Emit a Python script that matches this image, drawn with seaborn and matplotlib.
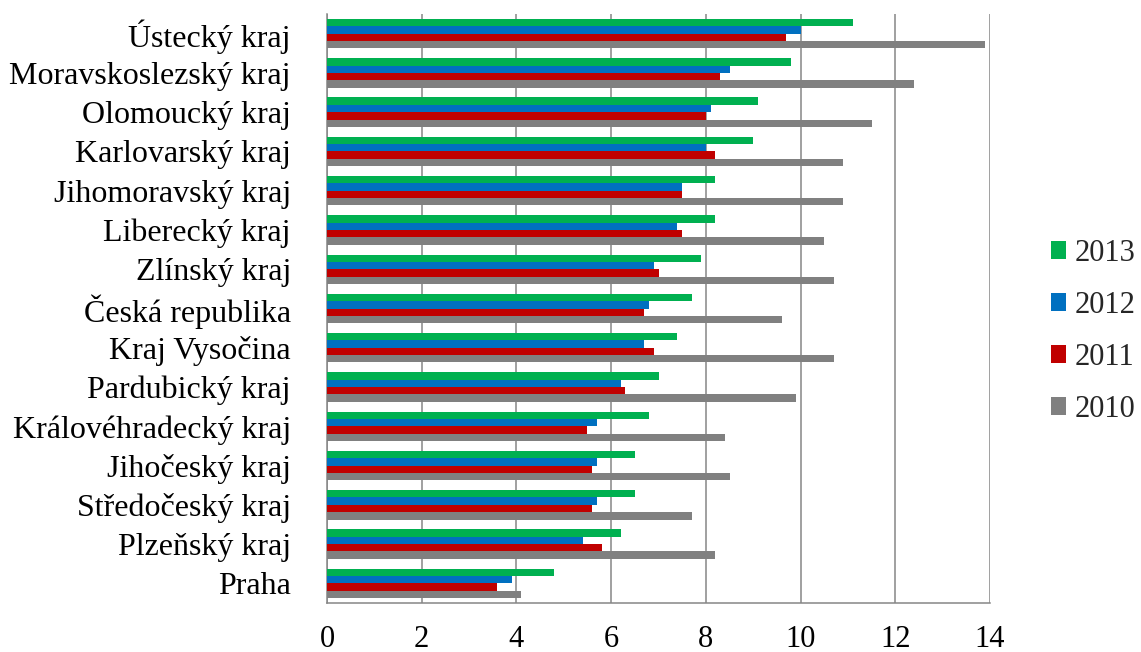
import matplotlib
matplotlib.use("Agg")
import matplotlib.pyplot as plt
import seaborn as sns
import pandas as pd
import numpy as np

regions = [
    "Ústecký kraj", "Moravskoslezský kraj", "Olomoucký kraj", "Karlovarský kraj",
    "Jihomoravský kraj", "Liberecký kraj", "Zlínský kraj", "Česká republika",
    "Kraj Vysočina", "Pardubický kraj", "Královéhradecký kraj", "Jihočeský kraj",
    "Středočeský kraj", "Plzeňský kraj", "Praha",
]
years = ["2013", "2012", "2011", "2010"]
v2013 = [11.1, 9.8, 9.1, 9.0, 8.2, 8.2, 7.9, 7.7, 7.4, 7.0, 6.8, 6.5, 6.5, 6.2, 4.8]
v2012 = [10.0, 8.5, 8.1, 8.0, 7.5, 7.4, 6.9, 6.8, 6.7, 6.2, 5.7, 5.7, 5.7, 5.4, 3.9]
v2011 = [9.7, 8.3, 8.0, 8.2, 7.5, 7.5, 7.0, 6.7, 6.9, 6.3, 5.5, 5.6, 5.6, 5.8, 3.6]
v2010 = [13.9, 12.4, 11.5, 10.9, 10.9, 10.5, 10.7, 9.6, 10.7, 9.9, 8.4, 8.5, 7.7, 8.2, 4.1]
x_ticks = [0, 2, 4, 6, 8, 10, 12, 14]

colors = ["#00B050", "#0070C0", "#C00000", "#808080"]
grid_color = "#868686"

series = {"2013": v2013, "2012": v2012, "2011": v2011, "2010": v2010}
df = pd.DataFrame(
    [(r, y, series[y][i]) for y in years for i, r in enumerate(regions)],
    columns=["region", "year", "value"],
)

sns.set_theme(style="white")
plt.rcParams["font.family"] = ["Liberation Serif", "DejaVu Serif"]
fs_y = 23
fs_x = 22

fig = plt.figure(figsize=(11.41, 6.52), dpi=100)
ax = fig.add_axes([327 / 1141, 1 - 603 / 652, (990 - 327) / 1141, (603 - 14) / 652])

sns.barplot(
    data=df, y="region", x="value", hue="year", order=regions, hue_order=years,
    palette=colors, saturation=1, orient="h", width=0.75, ax=ax, errorbar=None,
    linewidth=0, zorder=3,
)

ax.set_xlim(0, 14)
ax.set_ylim(len(regions) - 0.5, -0.5)
ax.set_xticks(x_ticks)
ax.set_xticklabels([str(t) for t in x_ticks], fontsize=fs_x, color="black")
ax.set_xlabel("")
ax.set_ylabel("")
ax.set_yticks(np.arange(len(regions)))
ax.set_yticklabels(regions, fontsize=fs_y, color="black")
ax.set_yticks(np.arange(len(regions) + 1) - 0.5, minor=True)

ax.grid(axis="x", color=grid_color, linewidth=1.1, zorder=0)
ax.set_axisbelow(True)
for side in ["top", "right"]:
    ax.spines[side].set_visible(False)
for side in ["left", "bottom"]:
    ax.spines[side].set_color(grid_color)
    ax.spines[side].set_linewidth(1.1)

ax.tick_params(axis="y", which="major", length=0, pad=26)
ax.tick_params(axis="y", which="minor", length=6, width=1.1, color=grid_color, direction="out")
ax.tick_params(axis="x", which="major", length=6, width=1.1, color=grid_color, direction="out", pad=9.5)

handles, labels = ax.get_legend_handles_labels()
ax.legend_.remove()
fig.legend(
    handles, labels, loc="center left", bbox_to_anchor=(1023 / 1141, 1 - 331.5 / 652),
    frameon=False, fontsize=fs_x, handlelength=0.52, handleheight=0.52,
    handletextpad=0.26, labelspacing=0.75,
)

fig.savefig("out.png", dpi=100)
